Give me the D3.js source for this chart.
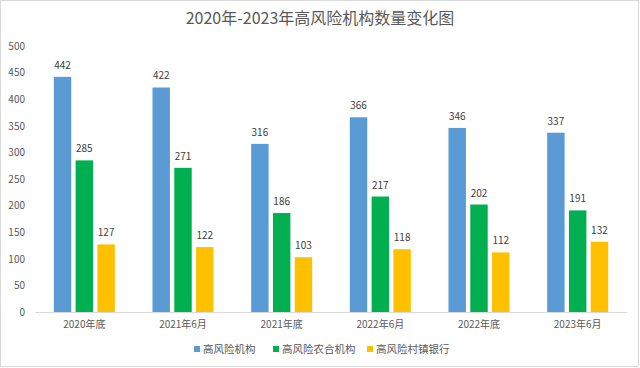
<!DOCTYPE html>
<html><head><meta charset="utf-8">
<script src="https://cdn.jsdelivr.net/npm/d3@7"></script>
<style>body{margin:0;background:#fff;}svg{display:block;font-family:"Noto Sans CJK SC","Noto Sans",sans-serif;}</style>
</head><body>
<svg id="c" width="640" height="368"></svg>
<script>
const categories = ["2020年底","2021年6月","2021年底","2022年6月","2022年底","2023年6月"];
const seriesNames = ["高风险机构","高风险农合机构","高风险村镇银行"];
const colors = ["#5B9BD5","#00B050","#FFC000"];
const s1 = [442,422,316,366,346,337];
const s2 = [285,271,186,217,202,191];
const s3 = [127,122,103,118,112,132];
const yTicks = [0,50,100,150,200,250,300,350,400,450,500];
const series = [s1,s2,s3];

const svg = d3.select("#c");
svg.append("rect").attr("x",0.5).attr("y",0.5).attr("width",638).attr("height",366)
  .attr("fill","#fff").attr("stroke","#d9d9d9");

const x = d3.scaleBand().domain(categories).range([35,627]).paddingInner(0).paddingOuter(0);
const y = d3.scaleLinear().domain([0,500]).range([312,46]);
const xs = d3.scaleBand().domain(d3.range(3)).range([0,61]).paddingInner(0.2);

svg.append("text").attr("x",320).attr("y",24).attr("text-anchor","middle")
  .attr("font-size",16).attr("fill","#595959").text("2020年-2023年高风险机构数量变化图");

const yAxis = svg.append("g").attr("transform","translate(25,0)")
  .call(d3.axisLeft(y).tickValues(yTicks).tickSize(0).tickPadding(0));
yAxis.select(".domain").remove();
yAxis.selectAll("text").attr("font-size",10).attr("fill","#595959").attr("text-anchor","end")
  .attr("font-family","'Noto Sans CJK SC',sans-serif");

series.forEach((vals,si)=>{
  const g = svg.append("g");
  g.selectAll("rect").data(vals).join("rect")
    .attr("x",(d,i)=>x(categories[i]) + x.bandwidth()/2 - 30.5 + xs(si))
    .attr("width",xs.bandwidth())
    .attr("y",d=>y(d)).attr("height",d=>y(0)-y(d)).attr("fill",colors[si]);
  g.selectAll("text").data(vals).join("text")
    .attr("x",(d,i)=>x(categories[i]) + x.bandwidth()/2 - 30.5 + xs(si) + xs.bandwidth()/2)
    .attr("y",d=>y(d)-8).attr("text-anchor","middle").attr("font-size",10).attr("fill","#404040")
    .text(d=>d);
});

const xAxis = svg.append("g").attr("transform","translate(0,312)")
  .call(d3.axisBottom(x).tickSize(0).tickPadding(9));
xAxis.select(".domain").attr("stroke","#d9d9d9");
xAxis.selectAll("text").attr("font-size",10).attr("fill","#595959")
  .attr("font-family","'Noto Sans CJK SC',sans-serif");

const legendX = [194,273,367];
const lg = svg.append("g");
seriesNames.forEach((n,i)=>{
  lg.append("rect").attr("x",legendX[i]).attr("y",346).attr("width",6).attr("height",6).attr("fill",colors[i]);
  lg.append("text").attr("x",legendX[i]+9).attr("y",353).attr("font-size",10.5).attr("fill","#595959").text(n);
});
</script>
</body></html>
